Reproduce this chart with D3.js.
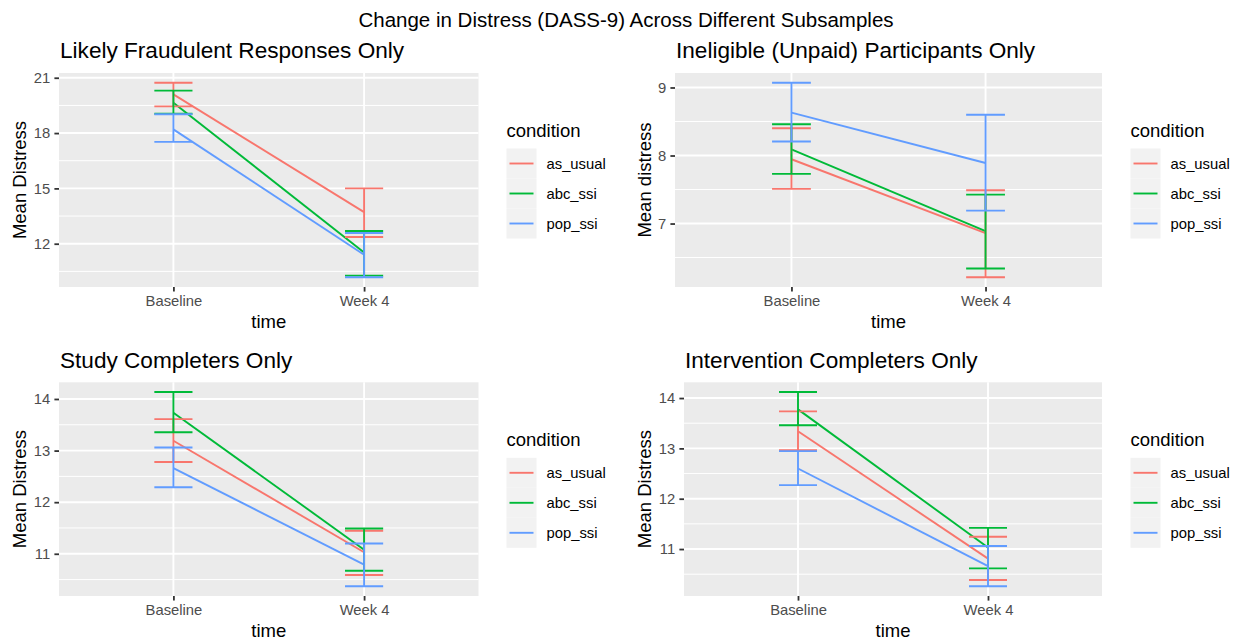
<!DOCTYPE html>
<html>
<head>
<meta charset="utf-8">
<script src="https://cdn.jsdelivr.net/npm/d3@7"></script>
<style>
  html, body { margin: 0; padding: 0; background: #fff; }
  svg { display: block; font-family: "Liberation Sans", Arial, Helvetica, sans-serif; }
</style>
</head>
<body>
<svg id="chart" width="1239" height="641"></svg>
<script>
// ---------------- DATA ----------------
const mainTitle = "Change in Distress (DASS-9) Across Different Subsamples";
const panelTitles = [
  "Likely Fraudulent Responses Only",
  "Ineligible (Unpaid) Participants Only",
  "Study Completers Only",
  "Intervention Completers Only"
];
const yTitles = ["Mean Distress", "Mean distress", "Mean Distress", "Mean Distress"];
const xTitle = "time";
const legendTitle = "condition";
const times = ["Baseline", "Week 4"];
const conditions = ["as_usual", "abc_ssi", "pop_ssi"];
const colors = ["#F8766D", "#00BA38", "#619CFF"];

// rows: as_usual, abc_ssi, pop_ssi ; columns: Baseline, Week 4
const fraudMean = [[20.10, 13.71], [19.65, 11.53], [18.20, 11.40]];
const fraudLow  = [[19.45, 12.36], [19.05, 10.27], [17.52, 10.18]];
const fraudHigh = [[20.73, 15.00], [20.30, 12.69], [19.02, 12.58]];
const fraudTicks = [12, 15, 18, 21];

const inelMean = [[7.945, 6.86], [8.09, 6.89], [8.63, 7.89]];
const inelLow  = [[7.51, 6.21], [7.73, 6.34], [8.205, 7.19]];
const inelHigh = [[8.40, 7.49], [8.46, 7.425], [9.07, 8.60]];
const inelTicks = [7, 8, 9];

const studyMean = [[13.19, 11.03], [13.735, 11.08], [12.66, 10.79]];
const studyLow  = [[12.78, 10.59], [13.355, 10.67], [12.29, 10.37]];
const studyHigh = [[13.61, 11.445], [14.135, 11.49], [13.06, 11.20]];
const studyTicks = [11, 12, 13, 14];

const intvMean = [[13.34, 10.81], [13.775, 11.03], [12.60, 10.66]];
const intvLow  = [[12.965, 10.385], [13.46, 10.615], [12.27, 10.26]];
const intvHigh = [[13.735, 11.245], [14.12, 11.42], [12.945, 11.06]];
const intvTicks = [11, 12, 13, 14];

// ---------------- LAYOUT ----------------
const panelData = [
  { mean: fraudMean, low: fraudLow, high: fraudHigh, ticks: fraudTicks },
  { mean: inelMean,  low: inelLow,  high: inelHigh,  ticks: inelTicks },
  { mean: studyMean, low: studyLow, high: studyHigh, ticks: studyTicks },
  { mean: intvMean,  low: intvLow,  high: intvHigh,  ticks: intvTicks }
];
const layout = [
  { x0: 59,  x1: 478.5, y0: 73,    y1: 287, yTitleX: 26,    legX: 506.5 },
  { x0: 675, x1: 1102,  y0: 73,    y1: 287, yTitleX: 650.7, legX: 1130.5 },
  { x0: 59,  x1: 478.5, y0: 382.3, y1: 596, yTitleX: 26,    legX: 506.5 },
  { x0: 684, x1: 1102,  y0: 382.3, y1: 596, yTitleX: 650.7, legX: 1130.5 }
];

const svg = d3.select("#chart");
svg.append("rect").attr("width", 1239).attr("height", 641).attr("fill", "#fff");

svg.append("text")
  .attr("x", 626).attr("y", 27)
  .attr("text-anchor", "middle")
  .attr("font-size", 20.5).attr("fill", "#000")
  .text(mainTitle);

panelData.forEach((pd, pi) => {
  const L = layout[pi];
  const g = svg.append("g");

  const all = pd.low.flat().concat(pd.high.flat(), pd.mean.flat());
  const lo = d3.min(all), hi = d3.max(all);
  const pad = (hi - lo) * 0.05;
  const y = d3.scaleLinear().domain([lo - pad, hi + pad]).range([L.y1, L.y0]);
  const x = d3.scalePoint().domain(times).range([L.x0, L.x1]).padding(0.6);
  const step = x.step();

  // panel background
  g.append("rect")
    .attr("x", L.x0).attr("y", L.y0)
    .attr("width", L.x1 - L.x0).attr("height", L.y1 - L.y0)
    .attr("fill", "#EBEBEB");

  // minor grid
  const t = pd.ticks;
  const d = t[1] - t[0];
  const minor = [t[0] - d / 2].concat(t.map(v => v + d / 2))
    .filter(v => v > y.domain()[0] && v < y.domain()[1]);
  g.selectAll(".minor").data(minor).enter().append("line")
    .attr("x1", L.x0).attr("x2", L.x1)
    .attr("y1", v => y(v)).attr("y2", v => y(v))
    .attr("stroke", "#fff").attr("stroke-width", 1);

  // major grid
  g.selectAll(".major").data(t).enter().append("line")
    .attr("x1", L.x0).attr("x2", L.x1)
    .attr("y1", v => y(v)).attr("y2", v => y(v))
    .attr("stroke", "#fff").attr("stroke-width", 1.9);
  g.selectAll(".vmajor").data(times).enter().append("line")
    .attr("x1", v => x(v)).attr("x2", v => x(v))
    .attr("y1", L.y0).attr("y2", L.y1)
    .attr("stroke", "#fff").attr("stroke-width", 1.9);

  // axes (ticks + labels)
  const yAxis = d3.axisLeft(y).tickValues(t).tickSize(4.6).tickPadding(4.2).tickFormat(d3.format("d"));
  const ya = g.append("g").attr("transform", `translate(${L.x0},0)`).call(yAxis);
  const xAxis = d3.axisBottom(x).tickSize(4.6).tickPadding(3.5);
  const xa = g.append("g").attr("transform", `translate(0,${L.y1})`).call(xAxis);
  [ya, xa].forEach(a => {
    a.select(".domain").remove();
    a.selectAll(".tick line").attr("stroke", "#333333").attr("stroke-width", 1.8);
    a.selectAll(".tick text").attr("fill", "#4D4D4D").attr("font-size", 14.8)
      .attr("font-family", "Liberation Sans, Arial, Helvetica, sans-serif");
  });

  // lines
  const line = d3.line().x((v, i) => x(times[i])).y(v => y(v));
  conditions.forEach((c, ci) => {
    g.append("path")
      .attr("d", line(pd.mean[ci]))
      .attr("fill", "none").attr("stroke", colors[ci]).attr("stroke-width", 1.9);
  });
  // error bars
  const hw = step * 0.1;
  conditions.forEach((c, ci) => {
    times.forEach((tm, ti) => {
      const cx = x(tm);
      const yl = y(pd.low[ci][ti]), yh = y(pd.high[ci][ti]);
      const p = d3.path();
      p.moveTo(cx - hw, yh); p.lineTo(cx + hw, yh);
      p.moveTo(cx, yh); p.lineTo(cx, yl);
      p.moveTo(cx - hw, yl); p.lineTo(cx + hw, yl);
      g.append("path").attr("d", p.toString())
        .attr("fill", "none").attr("stroke", colors[ci]).attr("stroke-width", 1.9);
    });
  });

  // titles
  g.append("text")
    .attr("x", L.x0 + 1).attr("y", L.y0 - 14.7)
    .attr("font-size", 22.6).attr("fill", "#000")
    .text(panelTitles[pi]);
  g.append("text")
    .attr("x", (L.x0 + L.x1) / 2).attr("y", L.y1 + 41)
    .attr("text-anchor", "middle").attr("font-size", 18.5).attr("fill", "#000")
    .text(xTitle);
  g.append("text")
    .attr("transform", `translate(${L.yTitleX},${(L.y0 + L.y1) / 2}) rotate(-90)`)
    .attr("text-anchor", "middle").attr("font-size", 18.5).attr("fill", "#000")
    .text(yTitles[pi]);

  // legend
  const ly = L.y0 + 75.5;
  const lg = g.append("g");
  lg.append("text")
    .attr("x", L.legX).attr("y", L.y0 + 63.7)
    .attr("font-size", 18.5).attr("fill", "#000")
    .text(legendTitle);
  const key = 30;
  conditions.forEach((c, ci) => {
    const ky = ly + ci * key;
    lg.append("rect").attr("x", L.legX).attr("y", ky).attr("width", key).attr("height", key)
      .attr("fill", "#F2F2F2");
    lg.append("line")
      .attr("x1", L.legX + 3).attr("x2", L.legX + key - 3)
      .attr("y1", ky + key / 2).attr("y2", ky + key / 2)
      .attr("stroke", colors[ci]).attr("stroke-width", 1.9);
    lg.append("text")
      .attr("x", L.legX + key + 10).attr("y", ky + key / 2)
      .attr("dominant-baseline", "central")
      .attr("font-size", 14.8).attr("fill", "#000")
      .text(c);
  });
});
</script>
</body>
</html>
